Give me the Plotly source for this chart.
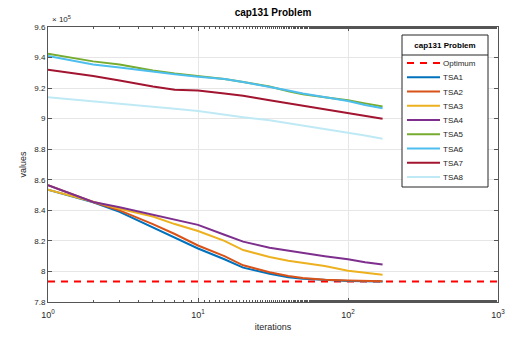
import plotly.graph_objects as go

iterations = [1, 2, 3, 5, 7, 10, 15, 20, 30, 40, 50, 70, 100, 130, 170]

optimum = 793439.56

tsa1 = [853500, 845200, 839000, 829000, 822000, 815000, 808000, 802500, 798500, 796200, 795200, 794300, 793800, 793600, 793500]
tsa2 = [856500, 845500, 840000, 831000, 824500, 817000, 810000, 804000, 799500, 797000, 795700, 794600, 794000, 793700, 793600]
tsa3 = [853500, 845500, 841000, 836000, 831000, 826500, 820000, 814000, 809500, 807000, 805500, 803500, 800500, 799000, 797900]
tsa4 = [856500, 845500, 842000, 837000, 834000, 830500, 824000, 819500, 815500, 813500, 812000, 810000, 808000, 806000, 804500]
tsa5 = [942500, 937500, 935500, 931500, 929500, 928000, 926000, 924000, 921000, 918000, 916000, 914000, 912000, 910000, 908000]
tsa6 = [941000, 935500, 933500, 930500, 929000, 927500, 926000, 924000, 921000, 918500, 916500, 914000, 911500, 909000, 906800]
tsa7 = [932000, 928000, 925000, 921000, 919000, 918500, 916500, 915000, 912000, 910000, 908500, 906000, 903500, 901500, 900000]
tsa8 = [914000, 911500, 910000, 908000, 906500, 905000, 902500, 901000, 899000, 897000, 895500, 893000, 891000, 889000, 886800]

series_names = ["TSA1", "TSA2", "TSA3", "TSA4", "TSA5", "TSA6", "TSA7", "TSA8"]
series_values = [tsa1, tsa2, tsa3, tsa4, tsa5, tsa6, tsa7, tsa8]
series_colors = ["#0072BD", "#D95319", "#EDB120", "#7E2F8E", "#77AC30", "#4DBEEE", "#A2142F", "#BFEAF5"]
optimum_name = "Optimum"
optimum_color = "#FF0000"

x_tick_vals = [1, 10, 100, 1000]
x_tick_text = ["10<sup>0</sup>", "10<sup>1</sup>", "10<sup>2</sup>", "10<sup>3</sup>"]
y_tick_vals = [7.8, 8.0, 8.2, 8.4, 8.6, 8.8, 9.0, 9.2, 9.4, 9.6]
y_tick_text = ["7.8", "8", "8.2", "8.4", "8.6", "8.8", "9", "9.2", "9.4", "9.6"]

title_text = "cap131 Problem"
legend_title = "cap131 Problem"

SCALE = 1e5
font_family = "Liberation Sans, Arial, sans-serif"
axis_color = "#555555"
opt_dash = "7px,6px"

W, H = 508, 342
ML, MR, MT, MB = 48, 10, 27, 40
PW, PH = W - ML - MR, H - MT - MB

fig = go.Figure()

fig.add_trace(go.Scatter(
    x=[1, 1000], y=[optimum / SCALE, optimum / SCALE], mode="lines",
    name=optimum_name, line=dict(color=optimum_color, width=2, dash=opt_dash)))

for name, vals, col in zip(series_names, series_values, series_colors):
    fig.add_trace(go.Scatter(
        x=iterations, y=[v / SCALE for v in vals], mode="lines", name=name,
        line=dict(color=col, width=2)))

fig.update_layout(
    width=W, height=H,
    margin=dict(l=ML, r=MR, t=MT, b=MB, autoexpand=False),
    paper_bgcolor="white", plot_bgcolor="white",
    font=dict(family=font_family, size=9, color="#262626"),
    title=dict(text="<b>" + title_text + "</b>", x=(ML + PW / 2) / W, xanchor="center",
               y=1 - 12 / H, yanchor="middle", font=dict(size=10, color="#000000")),
    showlegend=False,
    xaxis=dict(
        type="log", range=[0, 3], automargin=False,
        tickvals=x_tick_vals, ticktext=x_tick_text,
        ticks="inside", ticklen=4, tickcolor=axis_color,
        showline=True, linecolor=axis_color, linewidth=1, mirror="ticks",
        showgrid=True, gridcolor="#e6e6e6", gridwidth=1,
        zeroline=False,
        minor=dict(ticks="inside", ticklen=2, tickcolor=axis_color, showgrid=False),
        title=dict(text="iterations", font=dict(size=9, color="#262626"), standoff=4),
        tickfont=dict(size=9, color="#262626"),
        ticklabelstandoff=4,
    ),
    yaxis=dict(
        range=[7.8, 9.6], automargin=False,
        tickvals=y_tick_vals, ticktext=y_tick_text,
        ticks="inside", ticklen=4, tickcolor=axis_color,
        showline=True, linecolor=axis_color, linewidth=1, mirror="ticks",
        showgrid=True, gridcolor="#e6e6e6", gridwidth=1,
        zeroline=False,
        title=dict(text="values", font=dict(size=9, color="#262626"), standoff=6),
        tickfont=dict(size=8, color="#262626"),
    ),
    # overlay axes in pixel units, used only for the MATLAB-style legend box
    xaxis2=dict(overlaying="x", range=[ML, ML + PW], visible=False, automargin=False, fixedrange=True),
    yaxis2=dict(overlaying="y", range=[MT + PH, MT], visible=False, automargin=False, fixedrange=True),
)

fig.add_annotation(
    xref="paper", yref="paper", x=0, y=1, xanchor="left", yanchor="bottom",
    text="\u00d7 10<sup>5</sup>", showarrow=False, yshift=1, xshift=2,
    font=dict(size=8, color="#262626"))

# ---- legend box (MATLAB style) on the pixel overlay axes ----
LX0, LX1, LY0, LY1, LSEP = 402, 488, 35, 187, 55
leg = dict(xaxis="x2", yaxis="y2", hoverinfo="skip", showlegend=False, cliponaxis=False)
fig.add_trace(go.Scatter(x=[LX0, LX1, LX1, LX0, LX0], y=[LY0, LY0, LY1, LY1, LY0], mode="lines",
                         fill="toself", fillcolor="white", line=dict(color="#262626", width=1), **leg))
fig.add_trace(go.Scatter(x=[LX0, LX1], y=[LSEP, LSEP], mode="lines",
                         line=dict(color="#262626", width=1), **leg))
fig.add_trace(go.Scatter(x=[(LX0 + LX1) / 2], y=[45.5], mode="text", text=["<b>" + legend_title + "</b>"],
                         textposition="middle center", textfont=dict(size=8, color="#000000", family=font_family),
                         **leg))

entry_names = [optimum_name] + series_names
entry_colors = [optimum_color] + series_colors
entry_dash = [opt_dash] + ["solid"] * len(series_names)
entry_y = [63 + 14.25 * i for i in range(len(entry_names))]
for col, dsh, yy in zip(entry_colors, entry_dash, entry_y):
    fig.add_trace(go.Scatter(x=[407, 440], y=[yy, yy], mode="lines",
                             line=dict(color=col, width=2, dash=dsh), **leg))

fig.add_trace(go.Scatter(
    x=[443] * len(entry_names), y=[yy + 1 for yy in entry_y], mode="text", text=entry_names,
    textposition="middle right",
    textfont=dict(size=8, color="#262626", family=font_family), **leg))

fig.write_html("out.html")
